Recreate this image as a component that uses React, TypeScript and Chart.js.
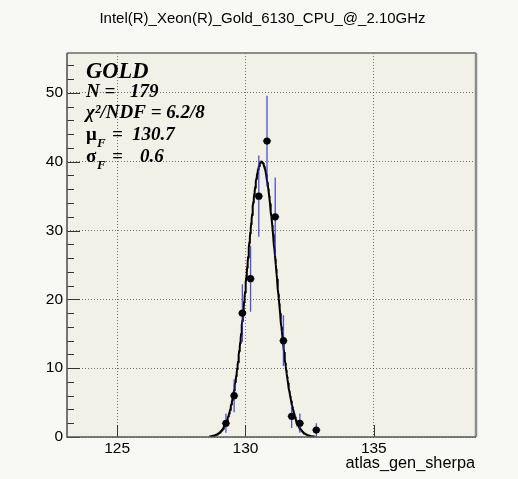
import React, { useEffect, useRef } from "react";
import { Chart, registerables } from "chart.js";

Chart.register(...registerables);

const TITLE = "Intel(R)_Xeon(R)_Gold_6130_CPU_@_2.10GHz";
const X_TITLE = "atlas_gen_sherpa";

const binCenters = [129.24, 129.56, 129.88, 130.2, 130.52, 130.84, 131.16, 131.48, 131.8, 132.12, 132.76];
const counts = [2, 6, 18, 23, 35, 43, 32, 14, 3, 2, 1];
const errors = [1.4, 2.4, 4.2, 4.8, 5.9, 6.6, 5.7, 3.7, 1.7, 1.4, 1.0];
const binHalfWidth = 0.16;

const xTicks = [125, 130, 135];
const yTicks = [0, 10, 20, 30, 40, 50];
const yMinorStep = 2;
const X_MIN = 123.05;
const X_MAX = 138.98;
const Y_MIN = 0;
const Y_MAX = 55.8;

// Gaussian fit parameters
const fitMean = 130.63;
const fitSigma = 0.57;
const fitAmp = 40;
const fitRange = [128.6, 132.7];

const statsName = "GOLD";
const statsN = "179";
const statsChi2 = "6.2/8";
const statsMu = "130.7";
const statsSigma = "0.6";

const fitCurve = (() => {
  const pts: { x: number; y: number }[] = [];
  const n = 240;
  for (let i = 0; i <= n; i++) {
    const x = fitRange[0] + ((fitRange[1] - fitRange[0]) * i) / n;
    const y = fitAmp * Math.exp(-((x - fitMean) ** 2) / (2 * fitSigma * fitSigma));
    pts.push({ x, y });
  }
  return pts;
})();

const SANS = '"Liberation Sans", Arial, Helvetica, sans-serif';
const SERIF = '"Liberation Serif", "Times New Roman", serif';

const rootPlugin = {
  id: "rootStyle",
  beforeDraw(chart: any) {
    const { ctx, chartArea: a } = chart;
    ctx.save();
    ctx.fillStyle = "#f8f8f4";
    ctx.fillRect(0, 0, chart.width, chart.height);
    ctx.fillStyle = "#f2f1e7";
    ctx.fillRect(a.left, a.top, a.right - a.left, a.bottom - a.top);
    ctx.restore();
  },
  afterDatasetDraw(chart: any, args: any) {
    if (args.index !== 1) return;
    const { ctx } = chart;
    const xs = chart.scales.x;
    const ys = chart.scales.y;
    ctx.save();
    ctx.strokeStyle = "rgba(40,40,200,0.8)";
    ctx.lineWidth = 1.3;
    for (let i = 0; i < binCenters.length; i++) {
      const px = xs.getPixelForValue(binCenters[i]);
      const py = ys.getPixelForValue(counts[i]);
      const pTop = ys.getPixelForValue(counts[i] + errors[i]);
      const pBot = ys.getPixelForValue(Math.max(0, counts[i] - errors[i]));
      ctx.beginPath();
      ctx.moveTo(px, pTop);
      ctx.lineTo(px, pBot);
      ctx.stroke();
      ctx.beginPath();
      ctx.moveTo(xs.getPixelForValue(binCenters[i] - binHalfWidth), py);
      ctx.lineTo(xs.getPixelForValue(binCenters[i] + binHalfWidth), py);
      ctx.stroke();
    }
    ctx.restore();
  },
  afterDraw(chart: any) {
    const { ctx, chartArea: a } = chart;
    const xs = chart.scales.x;
    const ys = chart.scales.y;
    ctx.save();
    // ticks
    ctx.strokeStyle = "#333";
    ctx.lineWidth = 1;
    for (const v of xTicks) {
      const px = Math.round(xs.getPixelForValue(v)) + 0.5;
      ctx.beginPath();
      ctx.moveTo(px, a.bottom);
      ctx.lineTo(px, a.bottom - 12);
      ctx.stroke();
    }
    for (let v = Y_MIN; v <= Y_MAX; v += yMinorStep) {
      const py = Math.round(ys.getPixelForValue(v)) + 0.5;
      const major = v % 10 === 0;
      ctx.beginPath();
      ctx.moveTo(a.left, py);
      ctx.lineTo(a.left + (major ? 13 : 7), py);
      ctx.stroke();
    }
    // frame
    ctx.strokeStyle = "#6a6a68";
    ctx.lineWidth = 1.5;
    ctx.beginPath();
    ctx.moveTo(a.left, a.top);
    ctx.lineTo(a.right, a.top);
    ctx.stroke();
    ctx.strokeStyle = "#8c8c88";
    ctx.lineWidth = 2.5;
    ctx.beginPath();
    ctx.moveTo(a.right, a.top);
    ctx.lineTo(a.right, a.bottom);
    ctx.stroke();
    ctx.strokeStyle = "#555";
    ctx.lineWidth = 1.6;
    ctx.beginPath();
    ctx.moveTo(a.left, a.top);
    ctx.lineTo(a.left, a.bottom);
    ctx.lineTo(a.right, a.bottom);
    ctx.stroke();

    // title
    ctx.fillStyle = "#000";
    ctx.font = `15px ${SANS}`;
    ctx.textAlign = "center";
    ctx.textBaseline = "alphabetic";
    ctx.fillText(TITLE, 262.5, 23);

    // axis title
    ctx.font = `16.3px ${SANS}`;
    ctx.textAlign = "right";
    ctx.fillText(X_TITLE, a.right - 1, 468);

    // stats box text
    ctx.textAlign = "left";
    ctx.fillStyle = "#000";
    ctx.font = `bold italic 22.5px ${SERIF}`;
    ctx.fillText(statsName, 86, 78);
    ctx.font = `bold italic 19px ${SERIF}`;
    ctx.fillText("N =", 86, 97);
    ctx.fillText(statsN, 130, 97);
    ctx.fillText("\u03c7\u00b2/NDF = " + statsChi2, 86, 118);
    // mu
    ctx.font = `bold 19px ${SERIF}`;
    ctx.fillText("\u03bc", 86, 140);
    ctx.font = `bold italic 13px ${SERIF}`;
    ctx.fillText("F", 97, 147);
    ctx.font = `bold italic 19px ${SERIF}`;
    ctx.fillText("=", 112, 140);
    ctx.fillText(statsMu, 132, 140);
    // sigma
    ctx.font = `bold 19px ${SERIF}`;
    ctx.fillText("\u03c3", 86, 162);
    ctx.font = `bold italic 13px ${SERIF}`;
    ctx.fillText("F", 97, 169);
    ctx.font = `bold italic 19px ${SERIF}`;
    ctx.fillText("=", 112, 162);
    ctx.fillText(statsSigma, 140, 162);
    ctx.restore();
  },
};

export default function App() {
  const ref = useRef<HTMLCanvasElement | null>(null);
  useEffect(() => {
    if (!ref.current) return;
    const gridColor = "rgba(70,70,70,0.75)";
    const chart = new Chart(ref.current, {
      type: "scatter",
      data: {
        datasets: [
          {
            type: "scatter",
            data: binCenters.map((x, i) => ({ x, y: counts[i] })),
            pointStyle: "circle",
            pointRadius: 3.6,
            pointBackgroundColor: "#000",
            pointBorderColor: "#000",
            pointBorderWidth: 0,
            showLine: false,
          } as any,
          {
            type: "line",
            data: fitCurve,
            borderColor: "#000",
            borderWidth: 2,
            pointRadius: 0,
            tension: 0,
            fill: false,
          } as any,
        ],
      },
      options: {
        animation: false,
        responsive: false,
        devicePixelRatio: 1,
        layout: { padding: { top: 53, right: 42, left: 0, bottom: 0 } },
        plugins: {
          legend: { display: false },
          tooltip: { enabled: false },
          title: { display: false },
        },
        scales: {
          x: {
            type: "linear",
            min: X_MIN,
            max: X_MAX,
            afterBuildTicks: (s: any) => {
              s.ticks = xTicks.map((v) => ({ value: v }));
            },
            afterFit: (s: any) => {
              s.height = 42;
            },
            ticks: {
              color: "#000",
              font: { family: SANS, size: 15.5 },
              padding: 2,
              maxRotation: 0,
              autoSkip: false,
              callback: (v: any) => String(v),
            },
            grid: {
              drawTicks: false,
              color: gridColor,
              lineWidth: 1,
              tickLength: 0,
            },
            border: { display: false, dash: [1, 2] },
          } as any,
          y: {
            type: "linear",
            min: Y_MIN,
            max: Y_MAX,
            afterBuildTicks: (s: any) => {
              s.ticks = yTicks.map((v) => ({ value: v }));
            },
            afterFit: (s: any) => {
              s.width = 67;
            },
            ticks: {
              color: "#000",
              font: { family: SANS, size: 15.5 },
              padding: 4,
              autoSkip: false,
              callback: (v: any) => String(v),
            },
            grid: {
              drawTicks: false,
              color: gridColor,
              lineWidth: 1,
              tickLength: 0,
            },
            border: { display: false, dash: [1, 2] },
          } as any,
        },
      },
      plugins: [rootPlugin],
    });
    return () => chart.destroy();
  }, []);
  return (
    <div style={{ position: "absolute", left: 0, top: 0, width: 518, height: 479 }}>
      <canvas ref={ref} width={518} height={479} style={{ width: 518, height: 479, display: "block" }} />
    </div>
  );
}
